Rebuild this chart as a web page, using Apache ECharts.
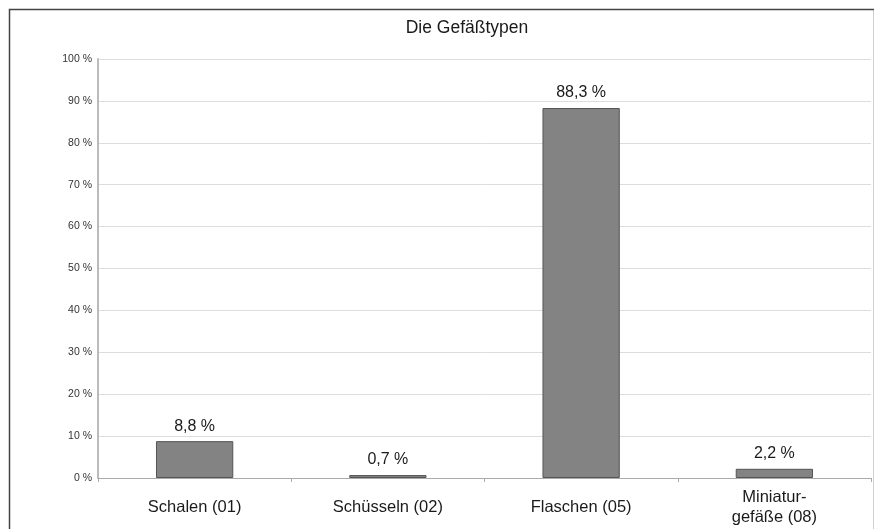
<!DOCTYPE html>
<html>
<head>
<meta charset="utf-8">
<script src="https://cdn.jsdelivr.net/npm/echarts@6/dist/echarts.min.js"></script>
<style>html,body{margin:0;padding:0;background:#fff}#c{width:874px;height:529px}</style>
</head>
<body>
<div id="c"></div>
<script>
const title = 'Die Gefäßtypen';
const categories = ['Schalen (01)', 'Schüsseln (02)', 'Flaschen (05)', 'Miniatur-\ngefäße (08)'];
const values = [8.8, 0.7, 88.3, 2.2];
const yTicks = [0, 10, 20, 30, 40, 50, 60, 70, 80, 90, 100];

const chart = echarts.init(document.getElementById('c'), null, {renderer: 'canvas'});
const font = 'Liberation Sans, Arial, sans-serif';
chart.setOption({
  animation: false,
  backgroundColor: '#fff',
  graphic: [{
    type: 'rect', left: 7, top: 7,
    shape: {width: 865, height: 530},
    style: {fill: 'none', stroke: '#444', lineWidth: 1.5},
    silent: true
  }],
  title: {
    text: title, left: 462, top: 14, textAlign: 'center',
    textStyle: {fontFamily: font, fontSize: 17.5, fontWeight: 'normal', color: '#1a1a1a'}
  },
  grid: {left: 98, right: 3, top: 59, bottom: 51},
  xAxis: {
    type: 'category', data: categories,
    axisLine: {lineStyle: {color: '#aaa', width: 1}},
    axisTick: {show: true, length: 4, lineStyle: {color: '#aaa'}},
    axisLabel: {fontFamily: font, fontSize: 16.5, color: '#1a1a1a', margin: 29, verticalAlign: 'middle', lineHeight: 20, interval: 0}
  },
  yAxis: {
    type: 'value', min: yTicks[0], max: yTicks[yTicks.length - 1], interval: 10,
    axisLine: {show: true, lineStyle: {color: '#bbb', width: 2}},
    axisTick: {show: false},
    splitLine: {lineStyle: {color: '#ddd', width: 1}},
    axisLabel: {fontFamily: font, fontSize: 10.5, color: '#333', margin: 6, formatter: v => v + ' %'}
  },
  series: [{
    type: 'bar', data: values, barWidth: '40%',
    itemStyle: {color: '#838383', borderColor: '#555', borderWidth: 1},
    label: {
      show: true, position: 'top', distance: 7,
      fontFamily: font, fontSize: 16, color: '#1a1a1a',
      formatter: p => String(p.value).replace('.', ',') + ' %'
    }
  }]
});
</script>
</body>
</html>
